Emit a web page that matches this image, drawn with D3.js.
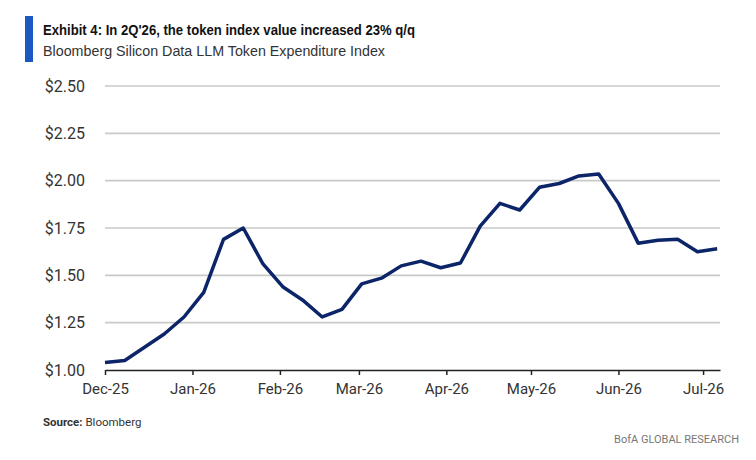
<!DOCTYPE html>
<meta charset="utf-8">
<style>
	body { margin: 0; background: #fff; }
	.chart text { font-family: Roboto, "Liberation Sans", sans-serif; fill: #333; }
	.title { font-family: "Liberation Sans", sans-serif !important; font-weight: bold; font-size: 15.5px; fill: #111 !important; }
	.subtitle { font-family: "Liberation Sans", sans-serif !important; font-size: 15.5px; fill: #333 !important; }
	.grid line { stroke: #c9c9c9; stroke-width: 1.6; }
</style>
<script src="https://d3js.org/d3.v7.min.js"></script>
<svg class="chart"></svg>
<script>

	// weekly index values, first week of Dec-25 onward
	var startDate = "2025-12-01";
	var values = [1.04, 1.05, 1.12, 1.19, 1.28, 1.41, 1.69, 1.75, 1.56, 1.44, 1.37, 1.28,
		1.32, 1.455, 1.485, 1.55, 1.575, 1.54, 1.565, 1.76, 1.88, 1.845, 1.965, 1.985,
		2.025, 2.035, 1.88, 1.67, 1.685, 1.69, 1.625, 1.64];
	var yTicks = [1.00, 1.25, 1.50, 1.75, 2.00, 2.25, 2.50];
	var xTicks = ["2025-12-01", "2026-01-01", "2026-02-01", "2026-03-01", "2026-04-01", "2026-05-01", "2026-06-01", "2026-07-01"];

	var width = 756,
	height = 460;

	var parse = d3.utcParse("%Y-%m-%d");
	var t0 = parse(startDate);
	var data = values.map(function(v, i) { return { date: d3.utcDay.offset(t0, i * 7), value: v }; });

	var x = d3.scaleUtc()
	.domain([t0, parse("2026-07-07")])
	.range([105, 720]);

	var y = d3.scaleLinear()
	.domain([1, 2.5])
	.range([370, 86]);

	var chart = d3.select(".chart")
	.attr("width", width)
	.attr("height", height);

	// title block (narrow house font -> squeeze with textLength)
	chart.append("rect")
	.attr("x", 25).attr("y", 16).attr("width", 8).attr("height", 46)
	.attr("fill", "#1c58c2");

	chart.append("text").attr("class", "title")
	.attr("x", 43).attr("y", 35)
	.attr("textLength", 372).attr("lengthAdjust", "spacingAndGlyphs")
	.text("Exhibit 4: In 2Q'26, the token index value increased 23% q/q");

	chart.append("text").attr("class", "subtitle")
	.attr("x", 43).attr("y", 56)
	.attr("textLength", 342).attr("lengthAdjust", "spacingAndGlyphs")
	.text("Bloomberg Silicon Data LLM Token Expenditure Index");

	// gridlines
	chart.append("g").attr("class", "grid")
	.selectAll("line").data(yTicks.slice(1)).enter().append("line")
	.attr("x1", 105).attr("x2", 720)
	.attr("y1", function(d) { return y(d); })
	.attr("y2", function(d) { return y(d); });

	// y labels
	chart.append("g").selectAll("text").data(yTicks).enter().append("text")
	.attr("x", 85)
	.attr("y", function(d) { return y(d); })
	.attr("dy", ".35em")
	.attr("text-anchor", "end")
	.style("font-size", "16px")
	.text(function(d) { return "$" + d.toFixed(2); });

	// x axis
	var xAxis = chart.append("g")
	.attr("transform", "translate(0," + y(1) + ")")
	.call(d3.axisBottom(x)
		.tickValues(xTicks.map(parse))
		.tickSize(5)
		.tickSizeOuter(0)
		.tickPadding(8)
		.tickFormat(d3.utcFormat("%b-%y")));

	xAxis.select(".domain").attr("stroke", "#222").attr("stroke-width", 1.5);
	xAxis.selectAll(".tick line").attr("stroke", "#222").attr("stroke-width", 1.5);
	xAxis.selectAll(".tick text")
	.style("font-family", "Roboto, sans-serif")
	.style("font-size", "15px")
	.attr("fill", "#333");

	// line
	var line = d3.line()
	.x(function(d) { return x(d.date); })
	.y(function(d) { return y(d.value); });

	chart.append("path")
	.datum(data)
	.attr("fill", "none")
	.attr("stroke", "#0c2468")
	.attr("stroke-width", 3.5)
	.attr("stroke-linejoin", "round")
	.attr("d", line);

	// footer
	var src = chart.append("text")
	.attr("x", 43).attr("y", 426)
	.style("font-size", "11.5px");
	src.append("tspan").attr("font-weight", "bold").text("Source:");
	src.append("tspan").text(" Bloomberg");

	chart.append("text")
	.attr("x", 739).attr("y", 443)
	.attr("text-anchor", "end")
	.style("font-size", "11px")
	.style("fill", "#777")
	.text("BofA GLOBAL RESEARCH");

</script>
